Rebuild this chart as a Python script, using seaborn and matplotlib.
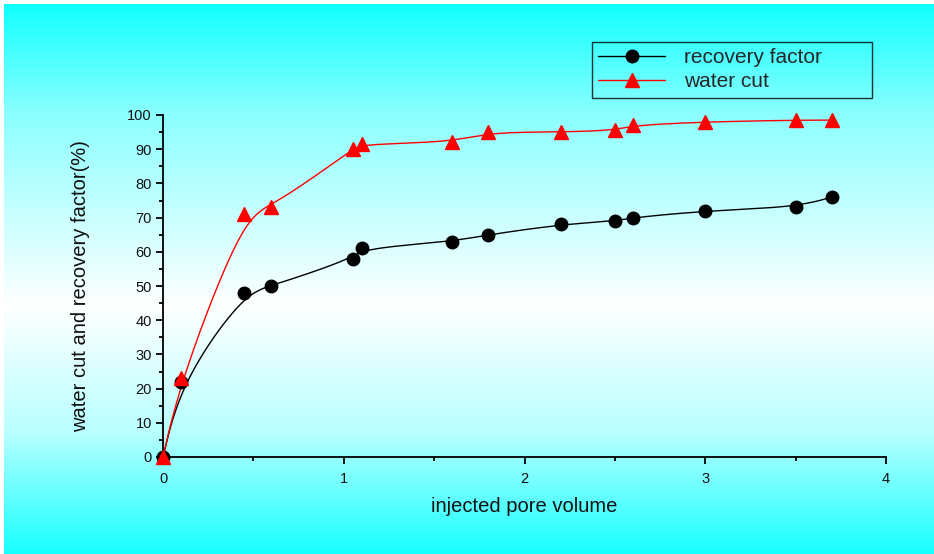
"""
Recovery factor and water cut vs injected pore volume
"""

import numpy as np
import pandas as pd
import matplotlib
matplotlib.use("Agg")
import matplotlib.pyplot as plt
from matplotlib.colors import LinearSegmentedColormap
from matplotlib.lines import Line2D
import seaborn as sns

# ── Data ───────────────────────────────────────────────────────────────────────
PV_RECOVERY = [0.0, 0.1, 0.45, 0.6, 1.05, 1.1, 1.6, 1.8, 2.2, 2.5, 2.6, 3.0, 3.5, 3.7]
RECOVERY    = [0.0, 22, 48, 50, 58, 61, 63, 65, 68, 69, 70, 72, 73, 76]

PV_WATERCUT = [0.0, 0.1, 0.45, 0.6, 1.05, 1.1, 1.6, 1.8, 2.2, 2.5, 2.6, 3.0, 3.5, 3.7]
WATERCUT    = [0.0, 23, 71, 73, 90, 91.5, 92, 95, 95, 95.5, 97, 98, 98.5, 98.5]

X_TICKS = [0, 1, 2, 3, 4]
Y_TICKS = [0, 10, 20, 30, 40, 50, 60, 70, 80, 90, 100]

FONT = ["Liberation Sans", "DejaVu Sans"]


def bspline(xs, ys, n=25):
    """Clamped uniform cubic B-spline using the data points as control points
    (same kind of smoothing the original plotting program draws)."""
    P = np.column_stack([xs, ys]).astype(float)
    P = np.vstack([P[:1], P[:1], P, P[-1:], P[-1:]])
    t = np.linspace(0, 1, n)
    b0 = (1 - t) ** 3 / 6
    b1 = (3 * t**3 - 6 * t**2 + 4) / 6
    b2 = (-3 * t**3 + 3 * t**2 + 3 * t + 1) / 6
    b3 = t**3 / 6
    segs = []
    for i in range(len(P) - 3):
        seg = (np.outer(b0, P[i]) + np.outer(b1, P[i + 1]) +
               np.outer(b2, P[i + 2]) + np.outer(b3, P[i + 3]))
        segs.append(seg)
    c = np.vstack(segs)
    return pd.DataFrame({"x": c[:, 0], "y": c[:, 1]})


# ── Figure ─────────────────────────────────────────────────────────────────────
sns.set_theme(style="ticks")
plt.rcParams["font.family"] = FONT

fig = plt.figure(figsize=(9.34, 5.54), dpi=100)
fig.patch.set_facecolor("white")

# cyan → white → cyan background
bg = fig.add_axes([4 / 934, 0, 930 / 934, 550 / 554], zorder=-10)
cmap = LinearSegmentedColormap.from_list(
    "bg", [(0.0, "#12ffff"), (0.2, "#8cffff"), (0.55, "#ffffff"),
           (0.78, "#b8ffff"), (1.0, "#18ffff")])
bg.imshow(np.linspace(0, 1, 256).reshape(-1, 1), aspect="auto", cmap=cmap,
          extent=[0, 1, 1, 0])
bg.set_axis_off()

ax = fig.add_axes([163 / 934, 1 - 457 / 554, 723 / 934, 342 / 554])
ax.patch.set_alpha(0)

rec_curve = bspline(PV_RECOVERY, RECOVERY)
wc_curve = bspline(PV_WATERCUT, WATERCUT)

sns.lineplot(data=rec_curve, x="x", y="y", ax=ax, color="black", lw=1,
             sort=False, estimator=None)
sns.lineplot(data=wc_curve, x="x", y="y", ax=ax, color="red", lw=1,
             sort=False, estimator=None)

ax.plot(PV_RECOVERY, RECOVERY, ls="none", marker="o", ms=9, color="black",
        clip_on=False, zorder=4)
ax.plot(PV_WATERCUT, WATERCUT, ls="none", marker="^", ms=10.5, color="red",
        clip_on=False, zorder=5)

ax.set_xlim(0, 4)
ax.set_ylim(0, 100)
ax.set_xticks(X_TICKS)
ax.set_yticks(Y_TICKS)
ax.set_xticks(np.arange(0.5, 4, 1), minor=True)
ax.set_yticks(np.arange(5, 100, 10), minor=True)
ax.tick_params(axis="both", which="major", direction="out", length=5,
               width=1.3, color="black", labelsize=10.5, labelcolor="#111111")
ax.tick_params(axis="both", which="minor", direction="out", length=3,
               width=1.3, color="black")
ax.tick_params(axis="x", pad=6)
ax.tick_params(axis="y", pad=3)
sns.despine(ax=ax)
for s in ("left", "bottom"):
    ax.spines[s].set_linewidth(1.3)
    ax.spines[s].set_color("black")

ax.set_xlabel("injected pore volume", fontsize=14.5, labelpad=8, color="#111111")
ax.set_ylabel("water cut and recovery factor(%)", fontsize=14.5, labelpad=27,
              color="#111111")

handles = [
    Line2D([], [], color="black", lw=1, marker="o", ms=9),
    Line2D([], [], color="red", lw=1, marker="^", ms=10.5),
]
leg = fig.legend(handles, ["recovery factor", "water cut"],
                 loc="upper left", mode="expand",
                 bbox_to_anchor=(592 / 934, 1 - 99 / 554, 280 / 934, 57 / 554),
                 frameon=True, fancybox=False, fontsize=15, handlelength=3.2,
                 borderpad=0.3, borderaxespad=0, labelspacing=0.25,
                 handletextpad=0.9)
leg.get_frame().set_edgecolor("black")
leg.get_frame().set_linewidth(1)
leg.get_frame().set_facecolor("none")

fig.savefig("out.png", dpi=100)
